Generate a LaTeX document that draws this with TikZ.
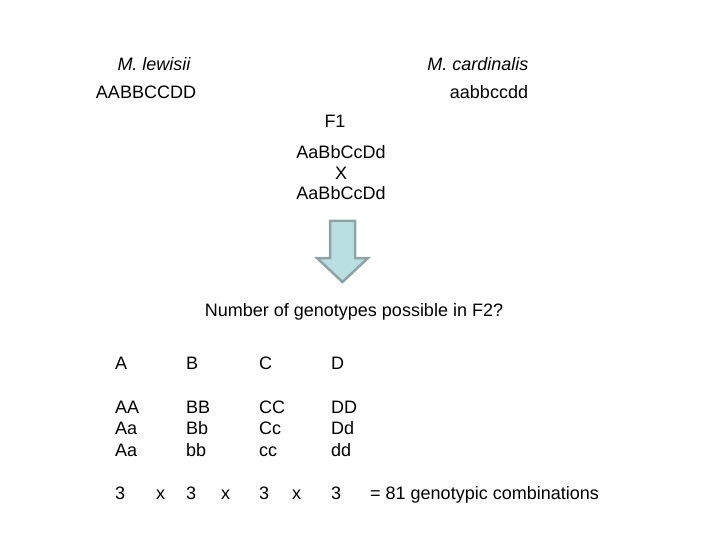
\documentclass[tikz,border=0pt]{standalone}
\usepackage{fontspec}
\setmainfont{Liberation Sans}
\usepackage{tikz}
\usepackage{xcolor}
\definecolor{arrowfill}{HTML}{B9DFE2}
\definecolor{arrowline}{HTML}{8FA3A5}

\begin{document}
\begin{tikzpicture}[x=1pt,y=-1pt,
    txt/.style={inner sep=0pt,anchor=base,font=\fontsize{18}{21.6}\selectfont},
    cell/.style={txt,anchor=base west}
]
\useasboundingbox (0,0) rectangle (720,540);

% Parents
\node[txt,font=\fontsize{18}{21.6}\selectfont\itshape] (lew) at (154,70.5){M. lewisii};
\node[txt,font=\fontsize{18}{21.6}\selectfont\itshape] (card) at (478,70.5){M. cardinalis};
\node[txt] (domP) at (146,98.5){AABBCCDD};
\node[txt] (recP) at (489,98.5){aabbccdd};

% F1 cross
\node[txt] (fone) at (335,127.5){F1};
\node[txt] (crossa) at (341,158.5){AaBbCcDd};
\node[txt] (crossx) at (341,179.5){X};
\node[txt] (crossb) at (341,199.5){AaBbCcDd};

% Arrow
\draw[arrowline,fill=arrowfill,line width=2.5pt,line join=miter]
    (330,221) -- (355,221) -- (355,258) -- (368,258) -- (342.5,282)
    -- (317,258) -- (330,258) -- cycle;

\node[txt] (quest) at (354,316.5){Number of genotypes possible in F2?};

% Genotype table
\node[cell] (hA) at (115,369.5){A};
\node[cell] (hB) at (186,369.5){B};
\node[cell] (hC) at (259,369.5){C};
\node[cell] (hD) at (331,369.5){D};

\node[cell] (aone) at (115,413.5){AA};
\node[cell] (atwo) at (115,434.5){Aa};
\node[cell] (athree) at (115,456.5){Aa};
\node[cell] (bone) at (186,413.5){BB};
\node[cell] (btwo) at (186,434.5){Bb};
\node[cell] (bthree) at (186,456.5){bb};
\node[cell] (cone) at (259,413.5){CC};
\node[cell] (ctwo) at (259,434.5){Cc};
\node[cell] (cthree) at (259,456.5){cc};
\node[cell] (done) at (331,413.5){DD};
\node[cell] (dtwo) at (331,434.5){Dd};
\node[cell] (dthree) at (331,456.5){dd};

\node[cell] (nA) at (115,499.5){3};
\node[cell] (xa) at (156,499.5){x};
\node[cell] (nB) at (186,499.5){3};
\node[cell] (xb) at (221,499.5){x};
\node[cell] (nC) at (259,499.5){3};
\node[cell] (xc) at (292,499.5){x};
\node[cell] (nD) at (331,499.5){3};
\node[cell] (total) at (370,499.5){= 81 genotypic combinations};

\end{tikzpicture}
\end{document}
